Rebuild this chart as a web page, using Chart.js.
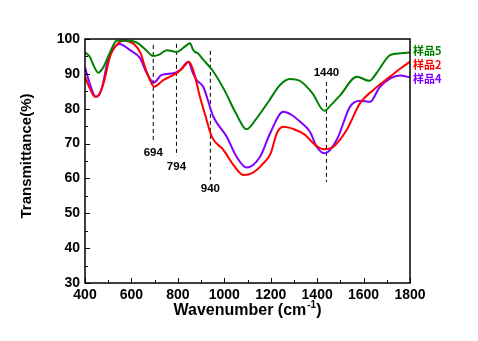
<!DOCTYPE html>
<html>
<head>
<meta charset="utf-8">
<script src="https://cdn.jsdelivr.net/npm/chart.js@4.4.1/dist/chart.umd.min.js"></script>
<style>
  html, body { margin: 0; padding: 0; background: #ffffff; }
  #wrap { width: 478px; height: 341px; }
</style>
</head>
<body>
<div id="wrap"><canvas id="c" width="478" height="341"></canvas></div>
<script>
// FTIR transmittance spectra of three samples
const seriesNames = ['样品5', '样品2', '样品4'];
const seriesColors = ['#008000', '#ff0000', '#8000ff'];

const wn5 = [400, 420, 440, 457, 480, 510, 536, 580, 623, 660, 694, 720, 752, 795, 830, 852, 865, 874, 885, 910, 948, 1000, 1050, 1096, 1140, 1190, 1240, 1283, 1330, 1380, 1431, 1460, 1500, 1571, 1625, 1660, 1714, 1760, 1800];
const t5  = [96.1, 95.0, 92.0, 90.3, 92.0, 96.5, 99.5, 99.6, 99.0, 97.0, 95.1, 95.5, 96.8, 96.3, 97.8, 98.8, 97.0, 96.3, 96.0, 94.0, 91.1, 85.4, 78.7, 74.1, 77.3, 82.0, 86.8, 88.5, 87.8, 84.4, 79.4, 81.1, 83.9, 89.2, 88.0, 90.6, 95.4, 95.9, 96.1];

const wn2 = [400, 420, 443, 460, 480, 508, 530, 565, 615, 640, 658, 680, 697, 737, 795, 820, 848, 870, 895, 920, 946, 996, 1039, 1082, 1120, 1168, 1200, 1226, 1254, 1300, 1348, 1383, 1427, 1470, 1527, 1585, 1642, 1714, 1760, 1800];
const t2  = [89.2, 85.9, 83.4, 83.9, 87.3, 95.0, 97.8, 99.5, 98.3, 95.9, 92.0, 88.2, 86.3, 88.2, 90.2, 91.6, 93.5, 90.2, 83.4, 77.7, 72.0, 68.2, 63.9, 61.0, 61.5, 64.3, 67.2, 72.9, 74.8, 74.1, 72.5, 70.1, 68.4, 69.1, 73.9, 81.6, 85.4, 89.2, 91.6, 93.5];

const wn4 = [400, 420, 447, 470, 500, 548, 594, 637, 666, 697, 730, 781, 810, 845, 865, 881, 909, 953, 1010, 1053, 1096, 1154, 1197, 1254, 1290, 1326, 1369, 1398, 1434, 1484, 1542, 1585, 1628, 1671, 1757, 1800];
const t4  = [91.9, 87.3, 83.4, 85.4, 94.0, 98.6, 96.8, 94.5, 90.2, 87.5, 89.7, 90.2, 91.1, 93.5, 90.2, 88.2, 86.3, 77.7, 72.0, 66.2, 63.1, 66.2, 72.9, 79.1, 78.2, 76.3, 73.4, 69.1, 67.2, 71.0, 80.6, 82.3, 82.0, 86.3, 89.5, 89.0];

// marked absorption bands: dashed guide from top to bottom value, label height
const bandWn     = [694, 794, 940, 1440];
const bandLabels = ['694', '794', '940', '1440'];
const bandTop    = [98.3, 98.6, 96.6, 87.7];
const bandBottom = [71.0, 66.4, 59.6, 59.0];
const bandLabelT = [67.3, 63.3, 57.0, 90.2];

const xTicks = [400, 600, 800, 1000, 1200, 1400, 1600, 1800];
const yTicks = [30, 40, 50, 60, 70, 80, 90, 100];

const FONT = '"Liberation Sans", Arial, sans-serif';

const toPoints = (xs, ys) => xs.map((x, i) => ({ x: x, y: ys[i] }));

const spectra = [
  toPoints(wn5, t5),
  toPoints(wn2, t2),
  toPoints(wn4, t4)
].map((pts, i) => ({
  label: seriesNames[i],
  data: pts,
  borderColor: seriesColors[i],
  backgroundColor: seriesColors[i],
  borderWidth: 2,
  pointRadius: 0,
  cubicInterpolationMode: 'monotone',
  fill: false
}));

const guides = bandWn.map((w, i) => ({
  label: 'band' + bandLabels[i],
  data: [{ x: w, y: bandTop[i] }, { x: w, y: bandBottom[i] }],
  borderColor: '#000000',
  borderWidth: 1,
  borderDash: [4, 3],
  pointRadius: 0,
  tension: 0,
  fill: false
}));

const decorations = {
  id: 'decorations',
  afterDatasetsDraw(chart) {
    const ctx = chart.ctx;
    const a = chart.chartArea;
    const xs = chart.scales.x, ys = chart.scales.y;
    ctx.save();

    // frame
    ctx.strokeStyle = '#000';
    ctx.lineWidth = 1.5;
    ctx.strokeRect(a.left, a.top, a.right - a.left, a.bottom - a.top);

    // inward ticks
    ctx.lineWidth = 1;
    ctx.beginPath();
    for (let v = 400; v <= 1800; v += 100) {
      const px = Math.round(xs.getPixelForValue(v)) + 0.5;
      const len = (v % 200 === 0) ? 5 : 3;
      ctx.moveTo(px, a.bottom);
      ctx.lineTo(px, a.bottom - len);
    }
    for (let v = 30; v <= 100; v += 5) {
      const py = Math.round(ys.getPixelForValue(v)) + 0.5;
      const len = (v % 10 === 0) ? 5 : 3;
      ctx.moveTo(a.left, py);
      ctx.lineTo(a.left + len, py);
    }
    ctx.stroke();

    // band labels
    ctx.fillStyle = '#000';
    ctx.font = 'bold 11.5px ' + FONT;
    ctx.textAlign = 'center';
    ctx.textBaseline = 'middle';
    bandWn.forEach((w, i) => {
      ctx.fillText(bandLabels[i], xs.getPixelForValue(w), ys.getPixelForValue(bandLabelT[i]));
    });

    // legend at the right
    ctx.font = 'bold 11px "Noto Sans CJK SC", ' + FONT;
    ctx.textAlign = 'left';
    seriesNames.forEach((name, i) => {
      ctx.fillStyle = seriesColors[i];
      ctx.fillText(name, a.right + 3, a.top + 12 + i * 13.7);
    });

    // axis titles
    ctx.fillStyle = '#000';
    ctx.textAlign = 'left';
    ctx.textBaseline = 'middle';
    const main = 'Wavenumber (cm';
    const sup = '-1';
    const close = ')';
    ctx.font = 'bold 16px ' + FONT;
    const wMain = ctx.measureText(main).width;
    const wClose = ctx.measureText(close).width;
    ctx.font = 'bold 10px ' + FONT;
    const wSup = ctx.measureText(sup).width;
    const total = wMain + wSup + wClose + 1;
    let tx = (a.left + a.right) / 2 - total / 2;
    const ty = 311;
    ctx.font = 'bold 16px ' + FONT;
    ctx.fillText(main, tx, ty);
    tx += wMain + 1;
    ctx.font = 'bold 10px ' + FONT;
    ctx.fillText(sup, tx, ty - 6);
    tx += wSup;
    ctx.font = 'bold 16px ' + FONT;
    ctx.fillText(close, tx, ty);

    ctx.translate(27, 156);
    ctx.rotate(-Math.PI / 2);
    ctx.textAlign = 'center';
    ctx.font = 'bold 15px ' + FONT;
    ctx.fillText('Transmittance(%)', 0, 0);
    ctx.restore();
  }
};

new Chart(document.getElementById('c'), {
  type: 'line',
  data: { datasets: spectra.concat(guides) },
  options: {
    responsive: false,
    animation: false,
    devicePixelRatio: 1,
    layout: { padding: { left: 0, top: 39, right: 68, bottom: 0 } },
    plugins: {
      legend: { display: false },
      tooltip: { enabled: false },
      title: { display: false }
    },
    scales: {
      x: {
        type: 'linear',
        min: 400,
        max: 1800,
        afterFit(scale) { scale.height = 58; },
        afterBuildTicks(scale) { scale.ticks = xTicks.map(v => ({ value: v })); },
        grid: { display: false, drawTicks: false },
        border: { display: false },
        ticks: {
          padding: 4,
          color: '#000',
          font: { family: FONT, size: 14, weight: 'bold' },
          maxRotation: 0,
          callback: v => String(v)
        }
      },
      y: {
        type: 'linear',
        min: 30,
        max: 100,
        afterFit(scale) { scale.width = 85; },
        afterBuildTicks(scale) { scale.ticks = yTicks.map(v => ({ value: v })); },
        grid: { display: false, drawTicks: false },
        border: { display: false },
        ticks: {
          padding: 5,
          color: '#000',
          font: { family: FONT, size: 14, weight: 'bold' },
          callback: v => String(v)
        }
      }
    }
  },
  plugins: [decorations]
});
</script>
</body>
</html>
